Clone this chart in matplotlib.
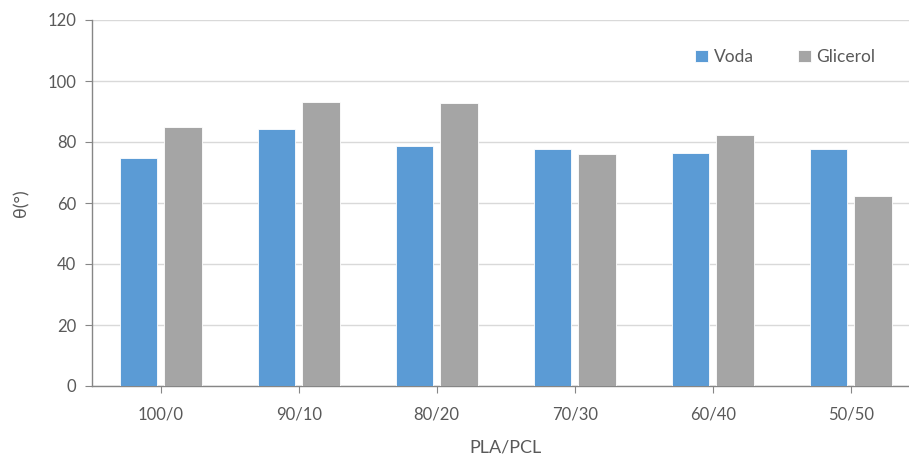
import matplotlib
matplotlib.use("Agg")
import matplotlib.pyplot as plt
import numpy as np

categories = ["100/0", "90/10", "80/20", "70/30", "60/40", "50/50"]
voda = [74.7, 84.3, 78.7, 77.7, 76.5, 77.6]
glicerol = [85.0, 93.1, 92.7, 76.1, 82.3, 62.2]
yticks = [0, 20, 40, 60, 80, 100, 120]

plt.rcParams['font.family'] = ['Lato', 'DejaVu Sans']
txt = '#595959'

fig = plt.figure(figsize=(9.09, 4.59), dpi=100)
ax = fig.add_axes([91.75/909, 73/459, 828/909, 366/459])

x = np.arange(len(categories))
w = 0.27
off = 0.161
ax.bar(x - off, voda, w, color='#5B9BD5', edgecolor='white', linewidth=0.6, label='Voda', zorder=3)
ax.bar(x + off, glicerol, w, color='#A5A5A5', edgecolor='white', linewidth=0.6, label='Glicerol', zorder=3)

ax.set_xlim(-0.5, len(categories) - 0.5)
ax.set_ylim(0, 120)
ax.set_yticks(yticks)
ax.set_xticks(x)
ax.set_xticklabels(categories)
ax.grid(axis='y', color='#D9D9D9', linewidth=1, zorder=0)
ax.set_axisbelow(True)
for s in ['top', 'right']:
    ax.spines[s].set_visible(False)
for s in ['left', 'bottom']:
    ax.spines[s].set_color('#868686')
    ax.spines[s].set_linewidth(1)
ax.tick_params(axis='y', colors='#868686', labelcolor=txt, labelsize=12, length=5, pad=6)
ax.tick_params(axis='x', colors='#868686', labelcolor=txt, labelsize=12, length=5, pad=10)

ax.set_ylabel('θ(°)', color=txt, fontsize=13, labelpad=13)
ax.set_xlabel('PLA/PCL', color=txt, fontsize=13, labelpad=12)

leg = ax.legend(loc='upper left', bbox_to_anchor=((695 - 91.75)/828, (386 - 49)/366), ncol=2,
                frameon=False, fontsize=12.5, handlelength=0.75, handleheight=0.75,
                handletextpad=0.35, columnspacing=2.5, borderaxespad=0, borderpad=0)
for t in leg.get_texts():
    t.set_color(txt)

fig.savefig('out.png', dpi=100)
